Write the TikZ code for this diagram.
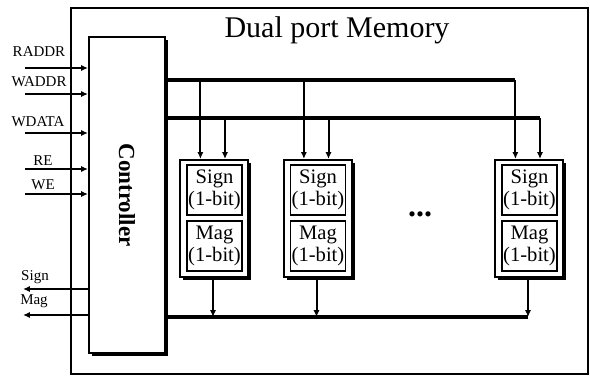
\documentclass[tikz,border=0pt]{standalone}
\usepackage{fontspec}
\setmainfont{Liberation Serif}
\usetikzlibrary{positioning,arrows.meta,shadows}

\begin{document}
\begin{tikzpicture}[
  x=0.5pt,y=-0.5pt,
  font=\fontsize{7.5}{8}\selectfont,
  box/.style={draw,line width=1pt,fill=white,inner sep=0pt,
    drop shadow={shadow xshift=1.6pt,shadow yshift=-1.6pt,opacity=1,fill=black}},
  cell/.style={box,minimum width=34pt,minimum height=58.5pt},
  bit/.style={draw,line width=0.9pt,fill=white,minimum width=27.5pt,minimum height=25pt,
    inner sep=0pt,align=center,font=\fontsize{10.3}{11}\selectfont},
  sig/.style={-{Latex[length=3.4pt,width=3pt]},line width=1pt},
  bus/.style={line width=2.2pt},
]
\useasboundingbox (0,0) rectangle (590,376);

% memory frame and controller
\node[draw,line width=1pt,anchor=north west,minimum width=258.5pt,minimum height=183pt,
  inner sep=0pt] (mem) at (70,7) {};
\node[font=\fontsize{15}{16}\selectfont] (title) at (337,30) {Dual port Memory};
\node[box,anchor=north west,minimum width=38pt,minimum height=158pt] (ctrl) at (88,36) {};
\node[rotate=-90,font=\bfseries\fontsize{11.5}{12}\selectfont] (ctrlname) at (ctrl.center) {Controller};

% control inputs on the left
\foreach \s/\y/\lx/\ly in {RADDR/68/39/52,WADDR/94/39/82,WDATA/133/38/122,RE/169/43/161,WE/194/43/185}{
  \coordinate (in\s) at (25,\y);
  \draw[sig] (in\s) -- (in\s -| ctrl.west);
  \node[inner sep=0pt] (l\s) at (\lx,\ly) {\s};
}
% read outputs
\foreach \s/\y/\lx/\ly in {Sign/289/35/277,Mag/315/34/301}{
  \coordinate (out\s) at (23,\y);
  \draw[sig] (out\s -| ctrl.west) -- (out\s);
  \node[inner sep=0pt] (l\s) at (\lx,\ly) {\s};
}

% memory cells
\foreach \i/\x in {1/214,2/317.5,3/529}{
  \node[cell] (cell\i) at (\x,218.5) {};
  \node[bit] (sign\i) at (\x+0.5,190) {Sign\\(1-bit)};
  \node[bit] (mag\i) at (\x+0.5,246) {Mag\\(1-bit)};
  \coordinate (ta\i) at ([xshift=-6.8pt]cell\i.north);
  \coordinate (tb\i) at ([xshift=5.5pt]cell\i.north);
  \coordinate (to\i) at ([xshift=-0.5pt]cell\i.south);
}
\node[font=\bfseries\fontsize{16}{16}\selectfont] (dots) at (420,214) {...};

% buses
\coordinate (rdbus) at (ctrl.east |- 0,80);
\coordinate (wrbus) at (ctrl.east |- 0,118);
\coordinate (outbus) at (ctrl.east |- 0,317);
\draw[bus] (rdbus) -- (rdbus -| ta3);
\draw[bus] (wrbus) -- (wrbus -| tb3);
\draw[bus] (outbus) -- (outbus -| to3);
\foreach \i in {1,2,3}{
  \draw[sig] (rdbus -| ta\i) -- (ta\i);
  \draw[sig] (wrbus -| tb\i) -- (tb\i);
  \draw[sig] (to\i) -- (outbus -| to\i);
}
\end{tikzpicture}
\end{document}
